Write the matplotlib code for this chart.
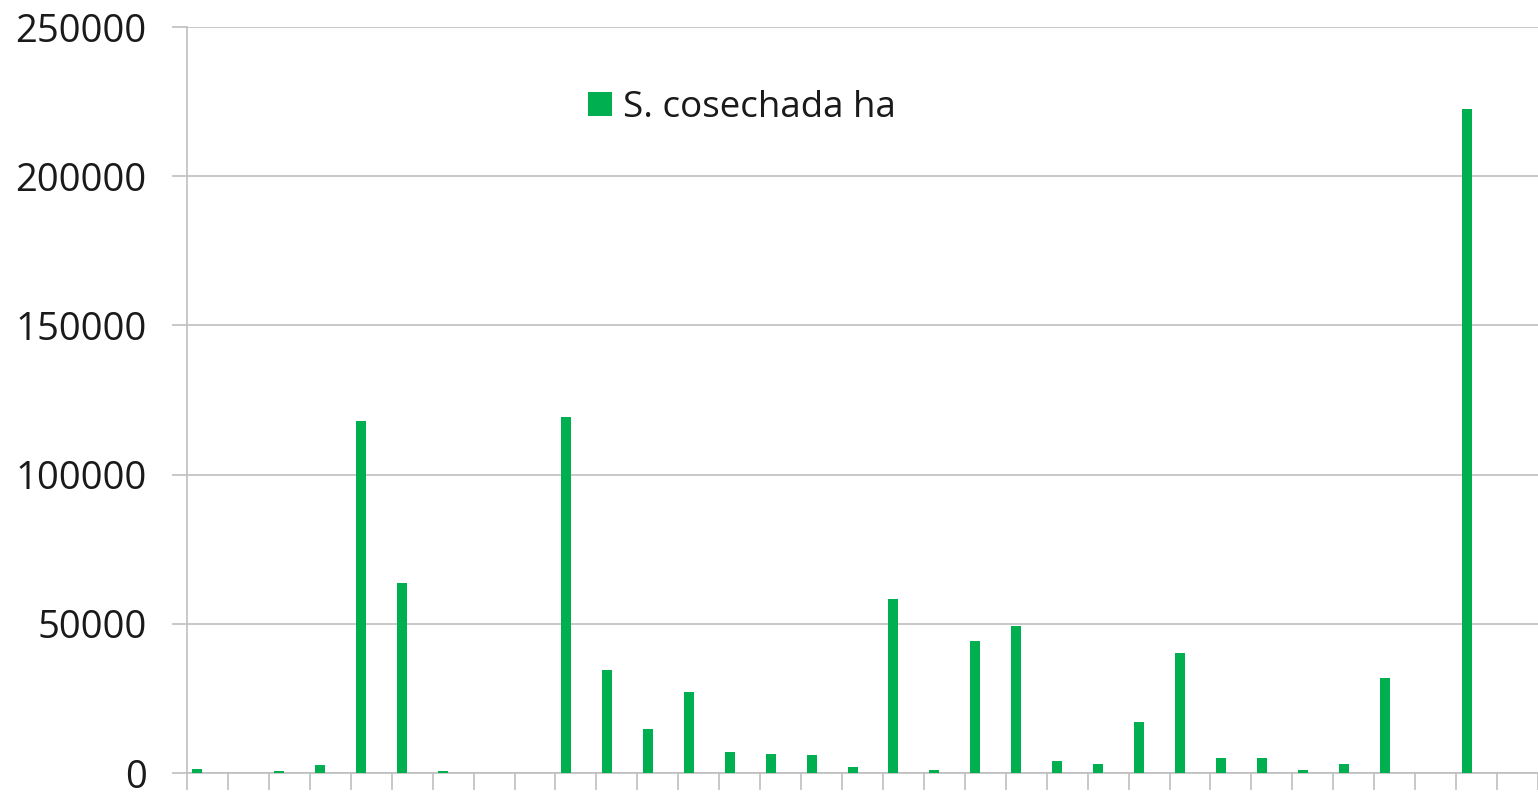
import matplotlib.pyplot as plt
import numpy as np

plt.rcParams['font.family'] = ['Open Sans', 'DejaVu Sans']

# hectares harvested per category (33 categories, unlabeled)
values = [1200, 0, 800, 2700, 118000, 63700, 800, 0, 0, 119300,
          34500, 14700, 27100, 7100, 6500, 5900, 1900, 58300, 1000, 44200,
          49300, 4100, 3000, 17100, 40200, 4900, 4900, 1100, 3000, 31800,
          0, 222500, 0]
series_name = 'S. cosechada ha'
yticks = [0, 50000, 100000, 150000, 200000, 250000]

W, H = 1538, 792
fig = plt.figure(figsize=(W / 100, H / 100), dpi=100)
ax = fig.add_axes([187 / W, 1 - 773 / H, (1538 - 187) / W, (773 - 27) / H])

n = len(values)
x = np.arange(n)
bw = 10 / 41
ax.bar(x - bw, values, width=bw, color='#00B050', label=series_name, zorder=3)

grid = '#BFBFBF'
ax.set_xlim(-0.5, n - 0.5 - 3 / 41)
ax.set_ylim(0, 250000)
ax.set_yticks(yticks)
ax.set_yticklabels([str(v) for v in yticks])
ax.yaxis.grid(True, color=grid, linewidth=1.2, zorder=0)
ax.set_xticks(np.arange(n + 1) - 0.5)
ax.set_xticklabels([])
ax.tick_params(axis='y', length=11, width=1.2, color=grid, pad=18,
               labelsize=27.5, labelcolor='#1a1a1a')
ax.tick_params(axis='x', length=12, width=1.2, color=grid)
for s in ['top', 'right']:
    ax.spines[s].set_visible(False)
for s in ['left', 'bottom']:
    ax.spines[s].set_color(grid)
    ax.spines[s].set_linewidth(1.2)

fig.legend(loc='upper left', bbox_to_anchor=(555 / W, 1 - 57 / H), frameon=False,
           fontsize=26.5, handlelength=0.65, handleheight=0.65, handletextpad=0.3,
           labelcolor='#1a1a1a')

fig.savefig('out.png', dpi=100)
